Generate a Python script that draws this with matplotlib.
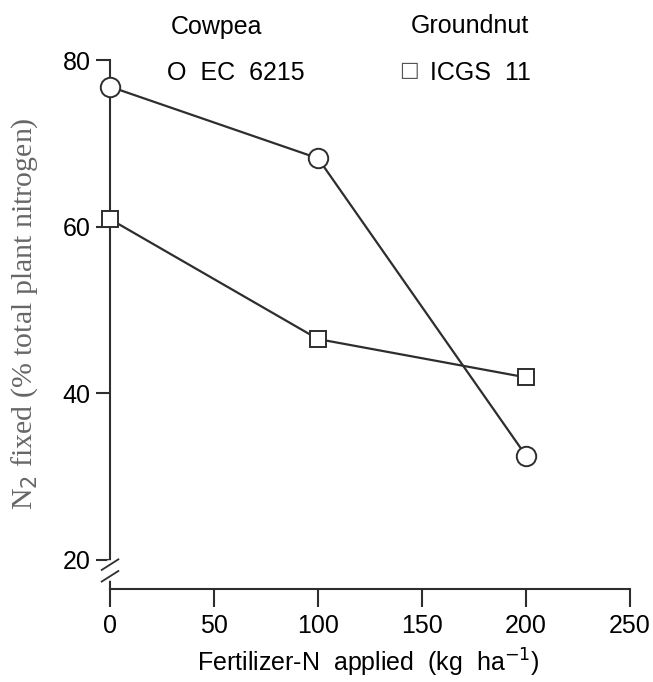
import matplotlib.pyplot as plt

# data
fert_n = [0, 100, 200]
cowpea = [76.8, 68.2, 32.5]
groundnut = [60.9, 46.5, 41.9]
x_ticks = [0, 50, 100, 150, 200, 250]
y_ticks = [20, 40, 60, 80]

plt.rcParams['font.family'] = ['Liberation Sans', 'DejaVu Sans']
ink = '#2e2e2e'

fig = plt.figure(figsize=(6.53, 6.82), dpi=100)
ax = fig.add_axes([0.1685, 0.1364, 0.7963, 0.7756])

ax.plot(fert_n, cowpea, color=ink, lw=1.6, marker='o', ms=14,
        mfc='white', mec=ink, mew=1.4, clip_on=False, zorder=3)
ax.plot(fert_n, groundnut, color=ink, lw=1.6, marker='s', ms=11,
        mfc='white', mec=ink, mew=1.4, clip_on=False, zorder=3)

ax.set_xlim(0, 250)
ax.set_ylim(16.5, 80)
ax.set_xticks(x_ticks)
ax.set_yticks(y_ticks)

for s in ['top', 'right']:
    ax.spines[s].set_visible(False)
for s in ['left', 'bottom']:
    ax.spines[s].set_color(ink)
    ax.spines[s].set_linewidth(1.5)

ax.tick_params(axis='x', direction='out', length=13, width=1.5, color=ink,
               labelsize=18, pad=5)
ax.tick_params(axis='y', direction='out', length=10, width=1.5, color=ink,
               labelsize=18, pad=4)

# axis break on the y axis
ax.plot([0, 0], [0.02, 0.05], transform=ax.transAxes, color='white',
        lw=4, clip_on=False, zorder=4)
for dy in (0.024, 0.046):
    ax.plot([-0.016, 0.016], [dy - 0.01, dy + 0.01], transform=ax.transAxes,
            color=ink, lw=1.3, clip_on=False, zorder=5)

ax.set_xlabel('Fertilizer-N  applied  (kg  ha$^{-1}$)', fontsize=18,
              va='center')
ax.xaxis.set_label_coords(0.496, -0.14)
ax.set_ylabel('N$_2$ fixed (% total plant nitrogen)', fontsize=21.5,
              family=['Liberation Serif', 'DejaVu Serif'], color='#666666',
              va='center')
ax.yaxis.set_label_coords(-0.165, 0.52)

# legend text at top
fig.text(217 / 653, 0.950, 'Cowpea', fontsize=18, ha='center', va='baseline')
fig.text(470 / 653, 0.952, 'Groundnut', fontsize=18, ha='center', va='baseline')
fig.text(167 / 653, 0.883, 'O  EC  6215', fontsize=18, ha='left', va='baseline')
fig.text(409 / 653, 0.897, '\u25a1', fontsize=15, ha='center', va='center',
         family=['DejaVu Sans'], color='#555555')
fig.text(430 / 653, 0.883, 'ICGS  11', fontsize=18, ha='left', va='baseline')

plt.savefig('out.png', dpi=100)
